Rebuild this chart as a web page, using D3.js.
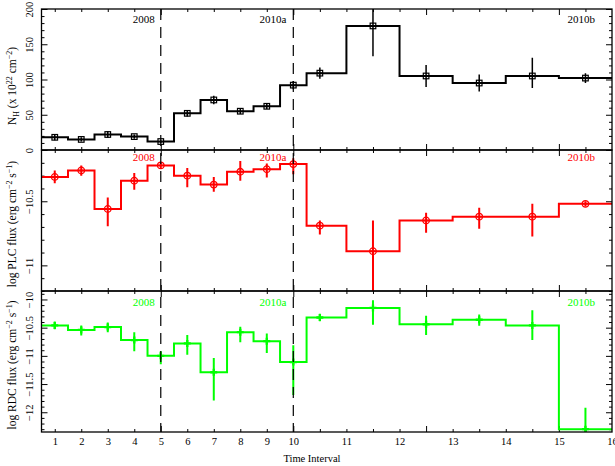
<!DOCTYPE html>
<html>
<head>
<meta charset="utf-8">
<script src="https://cdn.jsdelivr.net/npm/d3@7"></script>
<style>
  body { margin: 0; background: #fff; }
  svg { display: block; }
</style>
</head>
<body>
<div id="chart"></div>
<script>
// time interval centres (after interval 10 the bins are twice as wide)
const timeBins = [1, 2, 3, 4, 5, 6, 7, 8, 9, 10, 10.5, 11.5, 12.5, 13.5, 14.5, 15.5];

// N_H (x 10^22 cm^-2)
const nhValues = [18, 15, 22, 19, 12, 52, 71, 55, 62, 92, 109, 176, 105, 95, 105, 102];
const nhErrLo  = [4, 3, 4.5, 3, 2, 4.5, 6, 4, 4, 6, 8, 43, 15.5, 12, 17, 7];
const nhErrHi  = [4, 3, 4.5, 3, 2, 4.5, 6, 4, 4, 6, 8, 43, 15.5, 12, 26, 7];

// log PLC flux
const plcValues = [-10.31, -10.26, -10.56, -10.34, -10.22, -10.30, -10.37, -10.27, -10.25, -10.21, -10.69, -10.89, -10.65, -10.62, -10.62, -10.52];
const plcErrLo  = [0.05, 0.04, 0.135, 0.07, 0.02, 0.09, 0.055, 0.07, 0.065, 0.08, 0.07, 0.35, 0.095, 0.095, 0.155, 0.02];
const plcErrHi  = [0.05, 0.04, 0.09, 0.06, 0.02, 0.06, 0.06, 0.085, 0.045, 0.045, 0.04, 0.24, 0.06, 0.07, 0.10, 0.02];

// log RDC flux
const rdcValues = [-10.46, -10.54, -10.49, -10.72, -11.00, -10.78, -11.29, -10.58, -10.74, -11.11, -10.32, -10.15, -10.44, -10.36, -10.46, -12.30];
const rdcErrLo  = [0.07, 0.1, 0.09, 0.2, 0.15, 0.2, 0.5, 0.18, 0.21, 0.585, 0.065, 0.3, 0.19, 0.105, 0.26, 0.1];
const rdcErrHi  = [0.07, 0.077, 0.08, 0.14, 0.08, 0.15, 0.25, 0.095, 0.136, 0.3, 0.065, 0.136, 0.15, 0.095, 0.27, 0.38];

// axis ticks
const xTickLabels = [1, 2, 3, 4, 5, 6, 7, 8, 9, 10, 11, 12, 13, 14, 15, 16];
const xMajorTicks = [5, 10, 12.5, 15];
const xMinorTicks = [1, 2, 3, 4, 6, 7, 8, 9, 10.5, 11, 11.5, 12, 13, 13.5, 14, 14.5, 15.5];
const nhTicks  = [0, 50, 100, 150, 200];
const plcTicks = [-10.5, -11];
const rdcTicks = [-10, -10.5, -11, -11.5, -12];

// epochs
const epochNames = ["2008", "2010a", "2010b"];
const epochEnds = [5, 10, 16];

const W = 615, H = 466;
const left = 41.5, right = 612;
const serif = "Liberation Serif, Times New Roman, serif";

const svg = d3.select("#chart").append("svg")
    .attr("width", W)
    .attr("height", H);

// piecewise x: intervals 1-10 are narrow, 10-16 wide
const x = d3.scaleLinear()
    .domain([0.5, 10, 16])
    .range([left, 293.3, right]);

const panels = [
    { top: 9, bottom: 150, domain: [0, 200], values: nhValues, lo: nhErrLo, hi: nhErrHi,
      color: "#000", marker: "square", majors: nhTicks, minorStep: 10, yearDy: 13.5,
      titleY: 86,
      title: [["N", 0], ["H", -1], [" (x 10", 0], ["22", 1], [" cm", 0], ["\u22122", 1], [")", 0]] },
    { top: 150, bottom: 291, domain: [-11.2, -10.1], values: plcValues, lo: plcErrLo, hi: plcErrHi,
      color: "#ff0000", marker: "circle", majors: plcTicks, minorStep: 0.1, yearDy: 10.5,
      titleY: 224,
      title: [["log PLC flux (erg cm", 0], ["\u22122", 1], [" s", 0], ["\u22121", 1], [")", 0]] },
    { top: 291, bottom: 432, domain: [-12.35, -9.85], values: rdcValues, lo: rdcErrLo, hi: rdcErrHi,
      color: "#00ff00", marker: "cross", majors: rdcTicks, minorStep: 0.1, yearDy: 15,
      titleY: 365,
      title: [["log RDC flux (erg cm", 0], ["\u22122", 1], [" s", 0], ["\u22121", 1], [")", 0]] }
];

const fmt = d => String(d).replace("-", "\u2212");

panels.forEach((p, pi) => {
    const y = d3.scaleLinear().domain(p.domain).range([p.bottom, p.top]);
    const g = svg.append("g");

    const clipId = "clip" + pi;
    svg.append("clipPath").attr("id", clipId)
        .append("rect")
        .attr("x", left).attr("y", p.top)
        .attr("width", right - left).attr("height", p.bottom - p.top);

    // minor y ticks
    const step = p.minorStep;
    const i0 = Math.ceil(p.domain[0] / step - 1e-6), i1 = Math.floor(p.domain[1] / step + 1e-6);
    const yMinor = d3.range(i0, i1 + 1).map(i => +(i * step).toFixed(3))
        .filter(v => !p.majors.some(m => Math.abs(m - v) < 1e-6));

    const tickSets = [
        [d3.axisLeft(y).tickValues(yMinor).tickSize(-3), `translate(${left},0)`],
        [d3.axisLeft(y).tickValues(p.majors).tickSize(-6), `translate(${left},0)`],
        [d3.axisRight(y).tickValues(yMinor).tickSize(-3), `translate(${right},0)`],
        [d3.axisRight(y).tickValues(p.majors).tickSize(-6), `translate(${right},0)`],
        [d3.axisTop(x).tickValues(xMinorTicks).tickSize(-3), `translate(0,${p.top})`],
        [d3.axisTop(x).tickValues(xMajorTicks).tickSize(-6), `translate(0,${p.top})`],
        [d3.axisBottom(x).tickValues(xMinorTicks).tickSize(-3), `translate(0,${p.bottom})`],
        [d3.axisBottom(x).tickValues(xMajorTicks).tickSize(-6), `translate(0,${p.bottom})`]
    ];
    tickSets.forEach(([axis, tr]) => {
        g.append("g")
            .attr("transform", tr)
            .call(axis.tickFormat(""))
            .call(s => s.select(".domain").remove())
            .selectAll("line").attr("stroke", "#000").attr("stroke-width", 1);
    });

    // y tick labels, rotated
    g.append("g")
        .attr("transform", `translate(${left},0)`)
        .call(d3.axisLeft(y).tickValues(p.majors).tickSize(0).tickFormat(fmt))
        .call(s => s.select(".domain").remove())
        .selectAll("text")
        .attr("x", 0).attr("dy", null)
        .attr("y", -8.5)
        .attr("transform", "rotate(-90)")
        .attr("text-anchor", "middle")
        .attr("font-family", serif)
        .attr("font-size", 10.5)
        .attr("fill", "#000");

    // y title
    const t = g.append("text")
        .attr("transform", `translate(16,${p.titleY}) rotate(-90)`)
        .attr("text-anchor", "middle")
        .attr("font-family", serif)
        .attr("font-size", 11.5)
        .attr("fill", "#000");
    let prev = 0;
    p.title.forEach(([txt, s]) => {
        const off = s === 1 ? -4.5 : s === -1 ? 2.5 : 0;
        const prevOff = prev === 1 ? -4.5 : prev === -1 ? 2.5 : 0;
        t.append("tspan")
            .attr("dy", off - prevOff)
            .attr("font-size", s === 0 ? 11.5 : 8)
            .text(txt);
        prev = s;
    });

    // epoch labels
    epochNames.forEach((name, k) => {
        const off = k === 2 ? 17 : (k === 0 ? 6 : 7);
        const ex = k === 2 ? right : x(epochEnds[k]);
        g.append("text")
            .attr("x", ex - off)
            .attr("y", p.top + p.yearDy)
            .attr("text-anchor", "end")
            .attr("font-family", serif)
            .attr("font-size", 11)
            .attr("fill", p.color)
            .text(name);
    });

    const data = timeBins.map((t, i) => ({ t, v: p.values[i], lo: p.lo[i], hi: p.hi[i] }));
    const stepData = [{ t: 0.5, v: data[0].v }, ...data, { t: 16, v: data[data.length - 1].v }];

    const plot = g.append("g").attr("clip-path", `url(#${clipId})`);

    plot.append("path")
        .datum(stepData)
        .attr("d", d3.line().x(d => x(d.t)).y(d => y(d.v)).curve(d3.curveStep))
        .attr("fill", "none")
        .attr("stroke", p.color)
        .attr("stroke-width", 2);

    // error bars
    plot.selectAll(".err")
        .data(data)
        .join("line")
        .attr("x1", d => x(d.t)).attr("x2", d => x(d.t))
        .attr("y1", d => y(d.v - d.lo)).attr("y2", d => y(d.v + d.hi))
        .attr("stroke", p.color)
        .attr("stroke-width", pi === 0 ? 1.5 : 2);

    // markers
    const m = plot.selectAll(".mk").data(data).join("g")
        .attr("transform", d => `translate(${x(d.t)},${y(d.v)})`);
    if (p.marker === "square") {
        m.append("rect").attr("x", -2.8).attr("y", -2.8).attr("width", 5.6).attr("height", 5.6)
            .attr("fill", "none").attr("stroke", p.color).attr("stroke-width", 1.2);
        m.append("line").attr("x1", -2.8).attr("x2", 2.8).attr("stroke", p.color).attr("stroke-width", 1.2);
    } else if (p.marker === "circle") {
        m.append("circle").attr("r", 3.3)
            .attr("fill", "none").attr("stroke", p.color).attr("stroke-width", 1.3);
        m.append("line").attr("x1", -3.3).attr("x2", 3.3).attr("stroke", p.color).attr("stroke-width", 1.3);
    } else {
        m.append("path").attr("d", d3.symbol(d3.symbolCross, 27)).attr("fill", p.color);
    }

    // frame
    g.append("rect")
        .attr("x", left).attr("y", p.top)
        .attr("width", right - left).attr("height", p.bottom - p.top)
        .attr("fill", "none")
        .attr("stroke", "#000")
        .attr("stroke-width", 1.3);
});

// epoch dividers through all panels
svg.selectAll(".divider")
    .data(epochEnds.slice(0, 2))
    .join("line")
    .attr("x1", d => x(d)).attr("x2", d => x(d))
    .attr("y1", panels[0].top).attr("y2", panels[2].bottom)
    .attr("stroke", "#000")
    .attr("stroke-width", 1.2)
    .attr("stroke-dasharray", "11,7");

// x tick labels on the bottom panel
svg.append("g")
    .attr("transform", `translate(0,${panels[2].bottom})`)
    .call(d3.axisBottom(x).tickValues(xTickLabels).tickSize(0).tickPadding(6).tickFormat(d => d))
    .call(s => s.select(".domain").remove())
    .selectAll("text")
    .attr("font-family", serif)
    .attr("font-size", 10.5)
    .attr("fill", "#000");

svg.append("text")
    .attr("x", 312)
    .attr("y", 462)
    .attr("text-anchor", "middle")
    .attr("font-family", serif)
    .attr("font-size", 10.5)
    .text("Time Interval");
</script>
</body>
</html>
